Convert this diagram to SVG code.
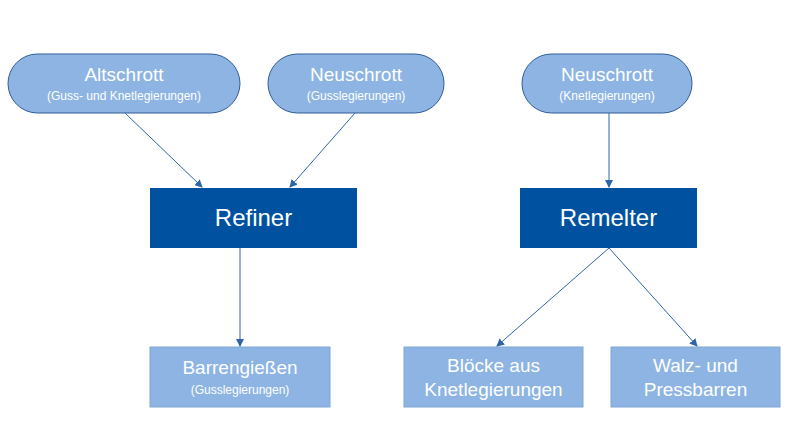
<svg xmlns="http://www.w3.org/2000/svg" width="800" height="425" viewBox="0 0 800 425">
<defs>
<marker id="ah" markerWidth="8" markerHeight="8" refX="7" refY="4" orient="auto" markerUnits="userSpaceOnUse"><path d="M0,0 L8,4 L0,8 Z" fill="#2E65A8"/></marker>
<style>
.pill{fill:#8DB4E2;stroke:#2E5C99;stroke-width:1}
.lbox{fill:#8DB4E2;stroke:#7FA7D6;stroke-width:1}
.dbox{fill:#0052A0}
.t{font-family:"Liberation Sans",Arial,sans-serif;fill:#fff;text-anchor:middle}
.big{font-size:19px}
.sm{font-size:12px}
.hd{font-size:24px}
.c{stroke:#2E65A8;stroke-width:1;fill:none;marker-end:url(#ah)}
</style>
</defs>
<rect width="800" height="425" fill="#fff"/>
<g id="altschrott"><rect class="pill" x="8" y="54" width="232" height="59" rx="29.5"/><text class="t big" x="124" y="81">Altschrott</text><text class="t sm" x="124" y="100">(Guss- und Knetlegierungen)</text></g>
<g id="neuschrott1"><rect class="pill" x="268" y="54" width="176" height="59" rx="29.5"/><text class="t big" x="356" y="81">Neuschrott</text><text class="t sm" x="356" y="100">(Gusslegierungen)</text></g>
<g id="neuschrott2"><rect class="pill" x="522" y="54" width="170" height="59" rx="29.5"/><text class="t big" x="607" y="81">Neuschrott</text><text class="t sm" x="607" y="100">(Knetlegierungen)</text></g>
<g id="refiner"><rect class="dbox" x="150" y="188" width="207" height="60"/><text class="t hd" x="253.5" y="226">Refiner</text></g>
<g id="remelter"><rect class="dbox" x="520" y="188" width="177" height="60"/><text class="t hd" x="608.5" y="226">Remelter</text></g>
<g id="barren"><rect class="lbox" x="150" y="347" width="180" height="60"/><text class="t big" x="240" y="374">Barrengießen</text><text class="t sm" x="240" y="394">(Gusslegierungen)</text></g>
<g id="bloecke"><rect class="lbox" x="404" y="347" width="179" height="60"/><text class="t big" x="493.5" y="372">Blöcke aus</text><text class="t big" x="493.5" y="396">Knetlegierungen</text></g>
<g id="walz"><rect class="lbox" x="611" y="347" width="169" height="60"/><text class="t big" x="695.5" y="372">Walz- und</text><text class="t big" x="695.5" y="396">Pressbarren</text></g>
<g id="connectors">
<line class="c" x1="125" y1="113" x2="202" y2="187"/>
<line class="c" x1="355" y1="113" x2="290" y2="187"/>
<line class="c" x1="609" y1="113" x2="609" y2="187"/>
<line class="c" x1="240" y1="248" x2="240" y2="346"/>
<line class="c" x1="609" y1="248" x2="497" y2="346"/>
<line class="c" x1="609" y1="248" x2="697" y2="346"/>
</g>
</svg>
